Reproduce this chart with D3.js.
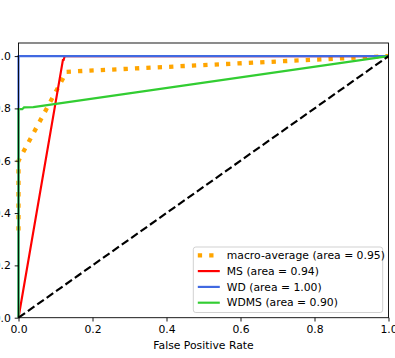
<!DOCTYPE html>
<html>
<head>
<meta charset="utf-8">
<script src="https://cdn.jsdelivr.net/npm/d3@7"></script>
<style>
  body { margin: 0; background: #fff; }
  svg { display: block; font-family: "DejaVu Sans", sans-serif; }
</style>
</head>
<body>
<div id="chart"></div>
<script>
// ROC curves
const macroFpr = [0, 0, 0.13, 1.0];
const macroTpr = [0.333, 0.6, 0.94, 1.0];
const msFpr = [0, 0.12, 0.122, 0.125, 1.0];
const msTpr = [0, 0.985, 0.985, 1.0, 1.0];
const wdFpr = [0, 0, 1.0];
const wdTpr = [0, 1.0, 1.0];
const wdmsFpr = [0, 0, 0.01, 0.015, 0.04, 1.0];
const wdmsTpr = [0, 0.797, 0.797, 0.804, 0.805, 1.0];
const chanceFpr = [0, 1];
const chanceTpr = [0, 1];

const seriesNames = ["macro-average (area = 0.95)", "MS (area = 0.94)", "WD (area = 1.00)", "WDMS (area = 0.90)"];
const xTicks = [0, 0.2, 0.4, 0.6, 0.8, 1.0];
const yTicks = [0, 0.2, 0.4, 0.6, 0.8, 1.0];

const W = 395, H = 358;
const margin = {top: 43, right: 6.5, bottom: 40.3, left: 18.5};
const width = W - margin.left - margin.right,
      height = H - margin.top - margin.bottom;

const svg = d3.select("#chart")
  .append("svg")
    .attr("width", W)
    .attr("height", H)
  .append("g")
    .attr("transform", `translate(${margin.left},${margin.top})`);

const x = d3.scaleLinear().domain([0, 1]).range([0, width]);
const y = d3.scaleLinear().domain([0, 1.05]).range([height, 0]);

const line = d3.line().x(d => x(d[0])).y(d => y(d[1]));
const zip = (a, b) => a.map((v, i) => [v, b[i]]);

// clip lines to the axes box
svg.append("clipPath").attr("id", "clip")
  .append("rect").attr("x", -3).attr("y", -3).attr("width", width + 6).attr("height", height + 6);

const series = [
  {pts: zip(macroFpr, macroTpr), color: "orange", w: 4.3, dash: "4.3,7.1"},
  {pts: zip(msFpr, msTpr), color: "red", w: 2.16, dash: null},
  {pts: zip(wdFpr, wdTpr), color: "royalblue", w: 2.16, dash: null},
  {pts: zip(wdmsFpr, wdmsTpr), color: "limegreen", w: 2.16, dash: null}
];

const plot = svg.append("g").attr("clip-path", "url(#clip)");
series.forEach(s => {
  plot.append("path")
    .attr("d", line(s.pts))
    .attr("fill", "none")
    .attr("stroke", s.color)
    .attr("stroke-width", s.w)
    .attr("stroke-dasharray", s.dash);
});

// chance line
plot.append("path")
  .attr("d", line(zip(chanceFpr, chanceTpr)))
  .attr("fill", "none")
  .attr("stroke", "black")
  .attr("stroke-width", 2.16)
  .attr("stroke-dasharray", "8,3.5");

// axes
const xAxis = svg.append("g")
  .attr("transform", `translate(0,${height})`)
  .call(d3.axisBottom(x).tickValues(xTicks).tickFormat(d3.format(".1f")).tickSize(3.8).tickPadding(3.8));
const yAxis = svg.append("g")
  .call(d3.axisLeft(y).tickValues(yTicks).tickFormat(d3.format(".1f")).tickSize(3.8).tickPadding(3.8));
[xAxis, yAxis].forEach(a => {
  a.selectAll("text").attr("font-size", 10.8).attr("fill", "#000").attr("font-family", "DejaVu Sans");
  a.selectAll("line").attr("stroke", "#000").attr("stroke-width", 0.9);
  a.select(".domain").remove();
});

// frame
svg.append("rect")
  .attr("width", width).attr("height", height)
  .attr("fill", "none").attr("stroke", "#000").attr("stroke-width", 0.9);

svg.append("text")
  .attr("x", width / 2).attr("y", height + 31.5)
  .attr("text-anchor", "middle").attr("font-size", 10.8)
  .text("False Positive Rate");
svg.append("text")
  .attr("transform", `translate(-32,${height / 2}) rotate(-90)`)
  .attr("text-anchor", "middle").attr("font-size", 10.8)
  .text("True Positive Rate");

// legend
const lg = svg.append("g").attr("transform", `translate(${193.3 - margin.left},${247 - margin.top})`);
lg.append("rect")
  .attr("width", 189.4).attr("height", 65.5).attr("rx", 2.5)
  .attr("fill", "white").attr("fill-opacity", 0.8)
  .attr("stroke", "#ccc").attr("stroke-width", 0.9);
seriesNames.forEach((name, i) => {
  const s = series[i];
  const cy = 8.3 + i * 15.8;
  lg.append("line")
    .attr("x1", 4.5).attr("x2", 26.5).attr("y1", cy).attr("y2", cy)
    .attr("stroke", s.color).attr("stroke-width", s.w)
    .attr("stroke-dasharray", s.dash);
  lg.append("text")
    .attr("x", 33.5).attr("y", cy).attr("dy", "0.35em")
    .attr("font-size", 10.8)
    .text(name);
});
</script>
</body>
</html>
